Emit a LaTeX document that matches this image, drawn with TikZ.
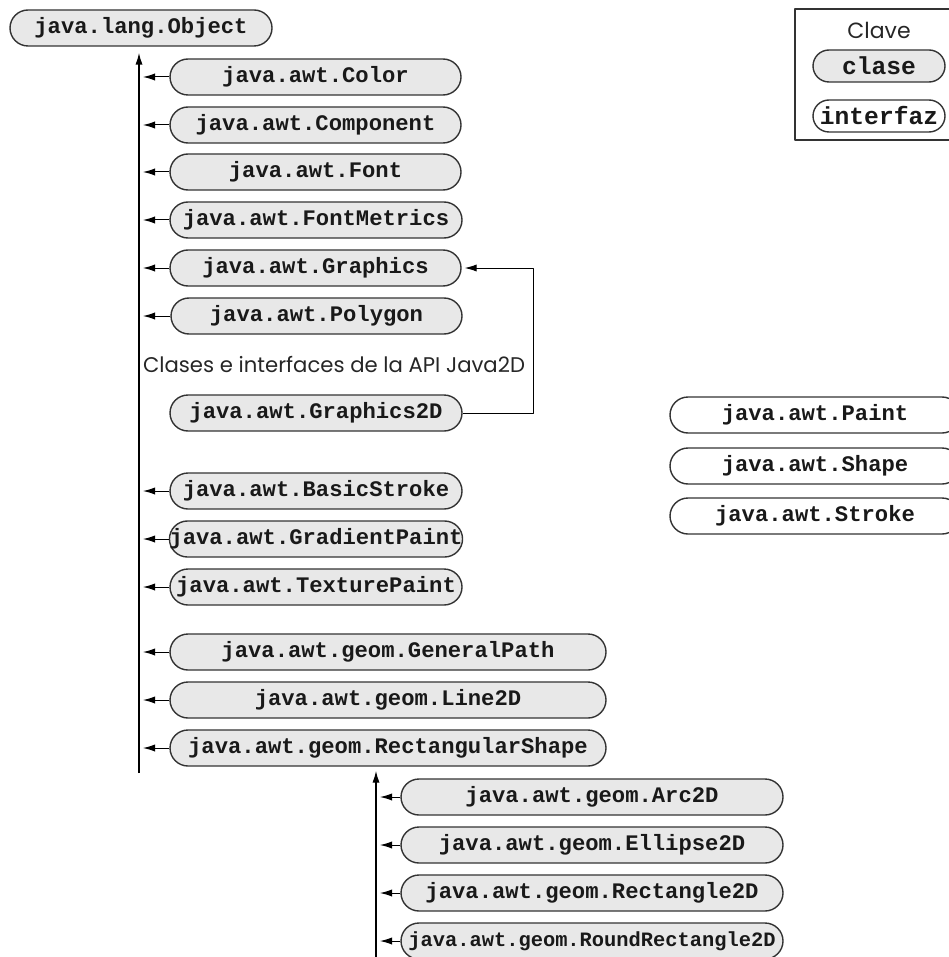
\documentclass[tikz,border=0pt]{standalone}
\usepackage{fontspec}
\setmonofont{Liberation Mono}
\newfontfamily\labelfont{Poppins}
\usetikzlibrary{arrows.meta}

\begin{document}
\begin{tikzpicture}[x=0.5pt, y=-0.5pt, >={Latex[length=6pt,width=3.6pt]}, line join=round,
  classbox/.style={draw=black!80, fill=black!9, line width=0.7pt, rounded corners=9pt,
    minimum height=18pt, inner sep=0pt, text=black!90, font=\fontsize{11.1}{13}\ttfamily\bfseries},
  ifacebox/.style={classbox, fill=white},
  branch/.style={->, line width=0.5pt, shorten >=2pt},
  trunk/.style={->, line width=0.7pt}]

\useasboundingbox (0,0) rectangle (948,957);

% Clave
\draw[black!80, line width=0.6pt] (795,9) rectangle (970,140);
\node[font=\labelfont\fontsize{11}{13}\selectfont, text=black!85] (clave) at (879,30) {Clave};
\node[classbox, minimum width=66pt, minimum height=16pt, rounded corners=8pt,
  font=\fontsize{12.3}{14}\ttfamily\bfseries] (keyclass) at (879,66) {clase};
\node[ifacebox, minimum width=66pt, minimum height=16pt, rounded corners=8pt,
  font=\fontsize{12.3}{14}\ttfamily\bfseries] (keyiface) at (879,116) {interfaz};

% Raiz
\node[classbox, minimum width=131pt] (object) at (141,28) {java.lang.Object};

% Clases de java.awt
\node[classbox, minimum width=145.5pt] (color) at (315.5,77) {java.awt.Color};
\node[classbox, minimum width=145.5pt] (component) at (315.5,125) {java.awt.Component};
\node[classbox, minimum width=145.5pt] (font) at (315.5,172) {java.awt.Font};
\node[classbox, minimum width=146pt] (fontmetrics) at (316,220) {java.awt.FontMetrics};
\node[classbox, minimum width=145.5pt] (graphics) at (315.5,268) {java.awt.Graphics};
\node[classbox, minimum width=145.5pt] (polygon) at (316.5,316) {java.awt.Polygon};

\node[font=\labelfont\fontsize{10.6}{13}\selectfont, text=black!85] (java2d) at (334,364) {Clases e interfaces de la API Java2D};

\node[classbox, minimum width=146pt] (graphics2d) at (316,413) {java.awt.Graphics2D};

\node[classbox, minimum width=146pt] (basicstroke) at (316,491) {java.awt.BasicStroke};
\node[classbox, minimum width=146pt] (gradient) at (316,539) {java.awt.GradientPaint};
\node[classbox, minimum width=146pt] (texture) at (316,587) {java.awt.TexturePaint};

\node[classbox, minimum width=218pt] (generalpath) at (388,652) {java.awt.geom.GeneralPath};
\node[classbox, minimum width=218pt] (line2d) at (388,700) {java.awt.geom.Line2D};
\node[classbox, minimum width=218pt] (rectshape) at (388,748) {java.awt.geom.RectangularShape};

% Subclases de RectangularShape
\node[classbox, minimum width=191pt] (arc2d) at (592,797) {java.awt.geom.Arc2D};
\node[classbox, minimum width=191pt] (ellipse2d) at (592,845) {java.awt.geom.Ellipse2D};
\node[classbox, minimum width=191pt] (rect2d) at (592,893) {java.awt.geom.Rectangle2D};
\node[classbox, minimum width=191pt, font=\fontsize{10.2}{12}\ttfamily\bfseries] (roundrect2d) at (592,941) {java.awt.geom.RoundRectangle2D};

% Interfaces
\node[ifacebox, minimum width=145pt] (paint) at (815,415) {java.awt.Paint};
\node[ifacebox, minimum width=145pt] (shape) at (815,466) {java.awt.Shape};
\node[ifacebox, minimum width=145pt] (stroke) at (815,516) {java.awt.Stroke};

% Troncos
\coordinate (trunkA) at (139,773);
\coordinate (trunkB) at (376,960);
\draw[trunk, shorten >=3pt] (trunkA) -- (object.south -| trunkA);
\draw[trunk, shorten >=2pt] (trunkB) -- (rectshape.south -| trunkB);

% Ramas
\foreach \n in {color,component,font,fontmetrics,graphics,polygon,basicstroke,gradient,texture,generalpath,line2d,rectshape}
  \draw[branch] (\n.west) -- (\n.west -| trunkA);
\foreach \n in {arc2d,ellipse2d,rect2d,roundrect2d}
  \draw[branch] (\n.west) -- (\n.west -| trunkB);

% Graphics2D hereda de Graphics
\coordinate (bend) at (533,413);
\draw[branch, shorten >=1.5pt] (graphics2d.east) -- (bend) |- (graphics.east);

\end{tikzpicture}
\end{document}
